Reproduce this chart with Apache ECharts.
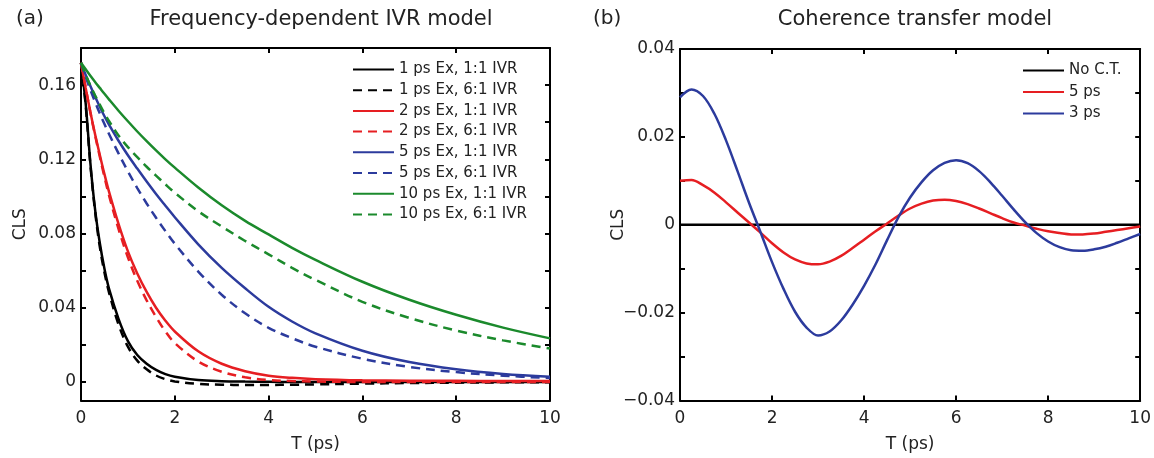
<!DOCTYPE html>
<html>
<head>
<meta charset="utf-8">
<script src="https://cdn.jsdelivr.net/npm/echarts@6/dist/echarts.min.js"></script>
<style>
html,body{margin:0;padding:0;background:#fff;}
#c{width:1154px;height:458px;}
</style>
</head>
<body>
<div id="c"></div>
<script>
// ---------- Panel (a): Frequency-dependent IVR model ----------
const T_a = [0,0.1,0.2,0.3,0.4,0.5,0.6,0.8,1.0,1.2,1.4,1.6,1.8,2.0,2.5,3,3.5,4,4.5,5,6,7,8,9,10];
const ex1_r11 = [0.172,0.150,0.118,0.093,0.075,0.061,0.050,0.034,0.022,0.0145,0.0098,0.0065,0.0042,0.0028,0.0010,0.0004,0.0002,0.0001,0,0,0,0,0,0,0];
const ex1_r61 = [0.172,0.149,0.117,0.092,0.073,0.059,0.048,0.031,0.019,0.0115,0.0068,0.0035,0.0015,0.0003,-0.0010,-0.0015,-0.0016,-0.0016,-0.0015,-0.0013,-0.0009,-0.0006,-0.0004,-0.0002,-0.0001];
const ex2_r11 = [0.172,0.1585,0.1455,0.1335,0.1225,0.1120,0.1023,0.0852,0.0704,0.0585,0.0485,0.0400,0.0330,0.0272,0.0165,0.0098,0.0058,0.0034,0.0022,0.0015,0.0009,0.0007,0.0006,0.0005,0.0005];
const ex2_r61 = [0.172,0.1585,0.1452,0.1330,0.1215,0.1105,0.1003,0.0825,0.0672,0.0545,0.0440,0.0350,0.0272,0.0210,0.0110,0.0055,0.0025,0.0010,0.0005,0.0002,0,0,0,0,0];
const ex5_r11 = [0.172,0.1655,0.1595,0.1538,0.1483,0.1432,0.1385,0.1300,0.1222,0.1150,0.1080,0.1013,0.0950,0.0888,0.0742,0.0615,0.0505,0.0405,0.0326,0.0262,0.0168,0.0107,0.0068,0.0043,0.0028];
const ex5_r61 = [0.172,0.1645,0.1575,0.1510,0.1448,0.1390,0.1335,0.1232,0.1135,0.1045,0.0962,0.0885,0.0813,0.0745,0.0595,0.0470,0.0370,0.0292,0.0236,0.0190,0.0125,0.0081,0.0053,0.0034,0.0021];
const ex10_r11 = [0.172,0.1685,0.1650,0.1617,0.1585,0.1553,0.1522,0.1462,0.1405,0.1350,0.1298,0.1248,0.1200,0.1155,0.1048,0.0952,0.0868,0.0795,0.0723,0.0658,0.0540,0.0443,0.0362,0.0293,0.0235];
const ex10_r61 = [0.172,0.1655,0.1598,0.1545,0.1495,0.1448,0.1405,0.1328,0.1266,0.1212,0.1160,0.1112,0.1065,0.1020,0.0920,0.0838,0.0760,0.0688,0.0615,0.0550,0.0432,0.0345,0.0277,0.0224,0.0180];
const names_a = ['1 ps Ex, 1:1 IVR','1 ps Ex, 6:1 IVR','2 ps Ex, 1:1 IVR','2 ps Ex, 6:1 IVR','5 ps Ex, 1:1 IVR','5 ps Ex, 6:1 IVR','10 ps Ex, 1:1 IVR','10 ps Ex, 6:1 IVR'];
const xTicks = [0,2,4,6,8,10];
const yLabels_a = [0,0.04,0.08,0.12,0.16];
const yTicks_a = [0,0.02,0.04,0.06,0.08,0.10,0.12,0.14,0.16,0.18];

// ---------- Panel (b): Coherence transfer model ----------
const T_b = [0,0.25,0.5,0.75,1.0,1.25,1.5,1.75,2.0,2.25,2.5,2.75,3.0,3.25,3.5,3.75,4.0,4.25,4.5,4.75,5.0,5.25,5.5,5.75,6.0,6.25,6.5,6.75,7.0,7.25,7.5,7.75,8.0,8.25,8.5,8.75,9.0,9.25,9.5,9.75,10.0];
const noCT = [0,0,0,0,0,0,0,0,0,0,0,0,0,0,0,0,0,0,0,0,0,0,0,0,0,0,0,0,0,0,0,0,0,0,0,0,0,0,0,0,0];
const ct5 = [0.0100,0.0102,0.0090,0.0073,0.0051,0.0028,0.0005,-0.0018,-0.0042,-0.0063,-0.0079,-0.0088,-0.0090,-0.0084,-0.0071,-0.0053,-0.0034,-0.0015,0.0003,0.0021,0.0037,0.0048,0.0055,0.0057,0.0054,0.0047,0.0037,0.0026,0.0015,0.0005,-0.0002,-0.0009,-0.0015,-0.0019,-0.0022,-0.0022,-0.0020,-0.0016,-0.0012,-0.0008,-0.0004];
const ct3 = [0.0290,0.0308,0.0293,0.0252,0.0192,0.0122,0.0050,-0.0017,-0.0085,-0.0146,-0.0198,-0.0234,-0.0252,-0.0243,-0.0218,-0.0182,-0.0139,-0.0090,-0.0035,0.0018,0.0062,0.0097,0.0124,0.0141,0.0147,0.0140,0.0122,0.0096,0.0066,0.0035,0.0006,-0.0019,-0.0038,-0.0051,-0.0058,-0.0059,-0.0056,-0.0050,-0.0041,-0.0031,-0.0021];
const names_b = ['No C.T.','5 ps','3 ps'];
const yLabels_b = [-0.04,-0.02,0,0.02,0.04];
const yTicks_b = [-0.04,-0.03,-0.02,-0.01,0,0.01,0.02,0.03,0.04];

const FONT = 'DejaVu Sans';
const TXT = '#222';
const RED = '#e61e22', BLUE = '#2c3b9d', GREEN = '#1b8a2c';
const DASH = [9,6];

function pairs(t, v){ return t.map((x,i)=>[x, v[i]]); }
function fmt(v){ return (v<0?'\u2212':'') + String(+Math.abs(v).toFixed(2)); }

const axisLineStyle = {lineStyle:{color:'#000', width:2}};
function xAxisMain(gi){
  return {type:'value', gridIndex:gi, min:0, max:10, interval:2, position:'bottom',
    axisLine:{show:true, onZero:false, ...axisLineStyle},
    axisTick:{show:true, inside:true, length:5, lineStyle:{color:'#000', width:2}, customValues:xTicks},
    axisLabel:{show:true, margin:10, fontSize:17, color:TXT, fontFamily:FONT, customValues:xTicks},
    splitLine:{show:false},
    name:'T (ps)', nameLocation:'middle', nameGap:44, nameMoveOverlap:false,
    nameTextStyle:{fontSize:17, color:TXT, fontFamily:FONT, verticalAlign:'middle'}};
}
function xAxisTop(gi){
  return {type:'value', gridIndex:gi, min:0, max:10, interval:2, position:'top',
    axisLine:{show:true, onZero:false, ...axisLineStyle},
    axisTick:{show:true, inside:true, length:5, lineStyle:{color:'#000', width:2}, customValues:xTicks},
    axisLabel:{show:false}, splitLine:{show:false}};
}
function yAxisMain(gi, min, max, labels, ticks, gap){
  return {type:'value', gridIndex:gi, min:min, max:max, interval:0.01, position:'left',
    axisLine:{show:true, onZero:false, ...axisLineStyle},
    axisTick:{show:true, inside:true, length:5, lineStyle:{color:'#000', width:2}, customValues:ticks},
    axisLabel:{show:true, margin:5, fontSize:17, color:TXT, fontFamily:FONT, customValues:labels, formatter:fmt},
    splitLine:{show:false},
    name:'CLS', nameLocation:'middle', nameGap:gap, nameRotate:90, nameMoveOverlap:false,
    nameTextStyle:{fontSize:17, color:TXT, fontFamily:FONT, verticalAlign:'middle'}};
}
function yAxisRight(gi, min, max, ticks){
  return {type:'value', gridIndex:gi, min:min, max:max, interval:0.01, position:'right',
    axisLine:{show:true, onZero:false, ...axisLineStyle},
    axisTick:{show:true, inside:true, length:5, lineStyle:{color:'#000', width:2}, customValues:ticks},
    axisLabel:{show:false}, splitLine:{show:false}};
}
function line(name, t, v, color, dashed, xi, yi){
  return {type:'line', name:name, data:pairs(t,v), xAxisIndex:xi, yAxisIndex:yi,
    smooth:0.35, showSymbol:false, symbol:'none', animation:false,
    lineStyle:{color:color, width:2.5, type: dashed?DASH:'solid'},
    itemStyle:{color:color}};
}

const dataA = [ex1_r11, ex1_r61, ex2_r11, ex2_r61, ex5_r11, ex5_r61, ex10_r11, ex10_r61];
const colA = ['#000','#000',RED,RED,BLUE,BLUE,GREEN,GREEN];
const series = [];
dataA.forEach((d,i)=>series.push(line(names_a[i], T_a, d, colA[i], i%2===1, 0, 0)));
series.push(line(names_b[0], T_b, noCT, '#000', false, 2, 2));
series.push(line(names_b[1], T_b, ct5, RED, false, 2, 2));
series.push(line(names_b[2], T_b, ct3, BLUE, false, 2, 2));

const legendCommon = {orient:'vertical', padding:0, itemHeight:14, selectedMode:false,
  itemStyle:{opacity:0, borderWidth:0},
  textStyle:{fontSize:15, color:TXT, fontFamily:FONT}};

const option = {
  animation:false,
  backgroundColor:'#fff',
  textStyle:{fontFamily:FONT},
  title:[
    {text:'(a)', left:11, top:4, textStyle:{fontSize:20, fontWeight:'normal', color:TXT, fontFamily:FONT}},
    {text:'Frequency-dependent IVR model', left:316, top:4, textAlign:'center', textStyle:{fontSize:21, fontWeight:'normal', color:TXT, fontFamily:FONT}},
    {text:'(b)', left:588, top:4, textStyle:{fontSize:20, fontWeight:'normal', color:TXT, fontFamily:FONT}},
    {text:'Coherence transfer model', left:910, top:4, textAlign:'center', textStyle:{fontSize:21, fontWeight:'normal', color:TXT, fontFamily:FONT}}
  ],
  legend:[
    Object.assign({}, legendCommon, {data:names_a, left:352, top:62, itemWidth:41, itemGap:5.7}),
    Object.assign({}, legendCommon, {data:names_b, left:1022, top:63, itemWidth:41, itemGap:6.5})
  ],
  grid:[
    {left:81, top:48, width:469, height:358},
    {left:680, top:49, width:462, height:358}
  ],
  xAxis:[xAxisMain(0), xAxisTop(0), xAxisMain(1), xAxisTop(1)],
  yAxis:[
    yAxisMain(0, -0.01, 0.18, yLabels_a, yTicks_a, 60),
    yAxisRight(0, -0.01, 0.18, yTicks_a),
    yAxisMain(1, -0.04, 0.04, yLabels_b, yTicks_b, 61),
    yAxisRight(1, -0.04, 0.04, yTicks_b)
  ],
  series:series
};
const chart = echarts.init(document.getElementById('c'), null, {renderer:'canvas'});
chart.setOption(option);
</script>
</body>
</html>
